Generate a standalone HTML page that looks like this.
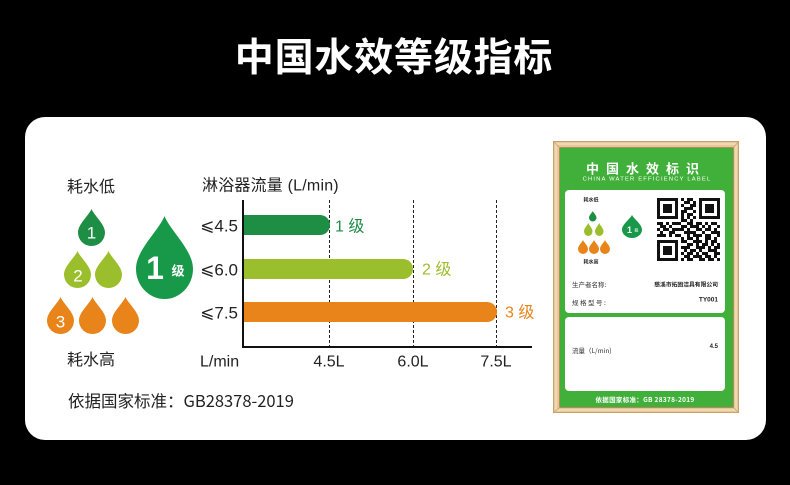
<!DOCTYPE html>
<html><head><meta charset="utf-8">
<style>
html,body{margin:0;padding:0;background:#000;}
body{width:790px;height:485px;overflow:hidden;}
svg{display:block;}
text{font-family:"Liberation Sans","Noto Sans CJK SC",sans-serif;}
.cjk{font-family:"Noto Sans CJK SC","Liberation Sans",sans-serif;}
.sym{font-family:"DejaVu Sans","Liberation Sans",sans-serif;}
</style></head>
<body>
<svg width="790" height="485" viewBox="0 0 790 485" xmlns="http://www.w3.org/2000/svg">
<defs>
<symbol id="drop" viewBox="0 0 100 135" preserveAspectRatio="none">
<path d="M50 0 C40 24 0 55 0 86 A50 49 0 0 0 100 86 C100 55 60 24 50 0 Z"/>
</symbol>
</defs>
<rect x="0" y="0" width="790" height="485" fill="#000"/>
<!-- title -->
<text x="394" y="55" fill="#fff" font-size="39" font-weight="bold" text-anchor="middle" dominant-baseline="central" class="cjk" letter-spacing="0.8">中国水效等级指标</text>

<!-- card -->
<rect x="25" y="117" width="741" height="323" rx="20" fill="#fff"/>

<!-- left legend -->
<text x="91" y="185" font-size="16" fill="#222" text-anchor="middle" dominant-baseline="central" class="cjk">耗水低</text>
<use href="#drop" x="78" y="209" width="27" height="37" fill="#1f8e45"/>
<text x="91.5" y="233" font-size="17" fill="#fff" text-anchor="middle" dominant-baseline="central">1</text>
<use href="#drop" x="64" y="251" width="27" height="37" fill="#9bbf2c"/>
<use href="#drop" x="95" y="251" width="27" height="37" fill="#9bbf2c"/>
<text x="78" y="276" font-size="17" fill="#fff" text-anchor="middle" dominant-baseline="central">2</text>
<use href="#drop" x="47" y="297" width="27" height="37" fill="#e8841a"/>
<use href="#drop" x="79" y="297" width="27" height="37" fill="#e8841a"/>
<use href="#drop" x="112" y="297" width="27" height="37" fill="#e8841a"/>
<text x="60.5" y="322" font-size="17" fill="#fff" text-anchor="middle" dominant-baseline="central">3</text>
<use href="#drop" x="136" y="216" width="57" height="83" fill="#18994a"/>
<text x="155" y="268" font-size="32" font-weight="bold" fill="#fff" text-anchor="middle" dominant-baseline="central">1</text>
<text x="178" y="270" font-size="13" font-weight="bold" fill="#fff" text-anchor="middle" dominant-baseline="central" class="cjk">级</text>
<text x="91" y="358" font-size="16" fill="#222" text-anchor="middle" dominant-baseline="central" class="cjk">耗水高</text>

<!-- chart -->
<text x="202" y="186" font-size="16" fill="#222" dominant-baseline="central" letter-spacing="0.2">淋浴器流量 (L/min)</text>
<g stroke="#222" stroke-width="1" stroke-dasharray="3 2">
<line x1="329.5" y1="200" x2="329.5" y2="346"/>
<line x1="413.5" y1="200" x2="413.5" y2="346"/>
<line x1="496.5" y1="200" x2="496.5" y2="346"/>
</g>
<path d="M243 215 H320 A10 10 0 0 1 320 235 H243 Z" fill="#1f8e45"/>
<path d="M243 259 H403 A10 10 0 0 1 403 279 H243 Z" fill="#9bbf2c"/>
<path d="M243 302 H487 A10 10 0 0 1 487 322 H243 Z" fill="#e8841a"/>
<line x1="243" y1="200" x2="243" y2="348" stroke="#111" stroke-width="2"/>
<line x1="242" y1="347" x2="532" y2="347" stroke="#111" stroke-width="2"/>
<text x="238" y="226" font-size="17" fill="#222" text-anchor="end" dominant-baseline="central"><tspan class="sym">⩽</tspan>4.5</text>
<text x="238" y="270" font-size="17" fill="#222" text-anchor="end" dominant-baseline="central"><tspan class="sym">⩽</tspan>6.0</text>
<text x="238" y="313" font-size="17" fill="#222" text-anchor="end" dominant-baseline="central"><tspan class="sym">⩽</tspan>7.5</text>
<text x="335" y="227" font-size="16" fill="#1f8e45" dominant-baseline="central">1 级</text>
<text x="422" y="270" font-size="16" fill="#9bbf2c" dominant-baseline="central">2 级</text>
<text x="505" y="313" font-size="16" fill="#e8841a" dominant-baseline="central">3 级</text>
<text x="200" y="362" font-size="16" fill="#222" dominant-baseline="central">L/min</text>
<text x="329" y="362" font-size="16" fill="#222" text-anchor="middle" dominant-baseline="central">4.5L</text>
<text x="413" y="362" font-size="16" fill="#222" text-anchor="middle" dominant-baseline="central">6.0L</text>
<text x="496" y="362" font-size="16" fill="#222" text-anchor="middle" dominant-baseline="central">7.5L</text>

<text x="68" y="400" font-size="16.5" fill="#222" dominant-baseline="central" class="cjk">依据国家标准：GB28378-2019</text>

<!-- label frame -->
<rect x="553" y="141" width="186" height="272" fill="#e6c99b"/>
<rect x="553.5" y="141.5" width="185" height="271" fill="none" stroke="#c9a26a" stroke-width="1"/>
<rect x="556" y="144" width="180" height="266" fill="none" stroke="#f2deb9" stroke-width="1.5"/>
<rect x="560" y="148" width="173" height="259" fill="#41b03a"/>
<rect x="559.5" y="147.5" width="174" height="260" fill="none" stroke="#b48a55" stroke-width="1"/>
<g stroke="#c9a26a" stroke-width="0.8">
<line x1="553" y1="141" x2="560" y2="148"/>
<line x1="739" y1="141" x2="733" y2="148"/>
<line x1="553" y1="413" x2="560" y2="407"/>
<line x1="739" y1="413" x2="733" y2="407"/>
</g>
<text x="646" y="168" font-size="13" font-weight="bold" fill="#fff" text-anchor="middle" dominant-baseline="central" class="cjk" letter-spacing="7">中国水效标识</text>
<text x="647" y="179.5" font-size="5.8" fill="#fff" text-anchor="middle" dominant-baseline="central" letter-spacing="1.2">CHINA WATER EFFICIENCY LABEL</text>

<rect x="565" y="190" width="160" height="123" rx="4" fill="#fff"/>
<rect x="565" y="317" width="160" height="74" rx="4" fill="#fff"/>

<text x="591" y="200" font-size="5" font-weight="bold" fill="#222" text-anchor="middle" dominant-baseline="central" class="cjk">耗水低</text>
<use href="#drop" x="589" y="211" width="7.5" height="10.5" fill="#1f8e45"/>
<use href="#drop" x="584" y="223" width="8.5" height="13" fill="#9bbf2c"/>
<use href="#drop" x="595" y="223" width="8.5" height="13" fill="#9bbf2c"/>
<use href="#drop" x="578" y="240" width="10" height="14" fill="#e8841a"/>
<use href="#drop" x="589" y="240" width="10" height="14" fill="#e8841a"/>
<use href="#drop" x="600" y="240" width="10" height="14" fill="#e8841a"/>
<use href="#drop" x="622" y="215" width="20" height="23" fill="#18994a"/>
<text x="629.5" y="230" font-size="9" font-weight="bold" fill="#fff" text-anchor="middle" dominant-baseline="central">1</text>
<text x="636.5" y="230.5" font-size="4" fill="#fff" text-anchor="middle" dominant-baseline="central" class="cjk">级</text>
<text x="591" y="262" font-size="5" font-weight="bold" fill="#222" text-anchor="middle" dominant-baseline="central" class="cjk">耗水高</text>

<g transform="translate(657,198) scale(3)" fill="#111" shape-rendering="crispEdges">
<path d="M0 0h7v1h-7zM8 0h1v1h-1zM10 0h2v1h-2zM14 0h7v1h-7z
M0 1h1v1h-1zM6 1h1v1h-1zM9 1h2v1h-2zM12 1h1v1h-1zM14 1h1v1h-1zM20 1h1v1h-1z
M0 2h1v1h-1zM2 2h3v1h-3zM6 2h1v1h-1zM8 2h1v1h-1zM11 2h2v1h-2zM14 2h1v1h-1zM16 2h3v1h-3zM20 2h1v1h-1z
M0 3h1v1h-1zM2 3h3v1h-3zM6 3h1v1h-1zM9 3h3v1h-3zM14 3h1v1h-1zM16 3h3v1h-3zM20 3h1v1h-1z
M0 4h1v1h-1zM2 4h3v1h-3zM6 4h1v1h-1zM8 4h2v1h-2zM12 4h1v1h-1zM14 4h1v1h-1zM16 4h3v1h-3zM20 4h1v1h-1z
M0 5h1v1h-1zM6 5h1v1h-1zM8 5h1v1h-1zM10 5h2v1h-2zM14 5h1v1h-1zM20 5h1v1h-1z
M0 6h7v1h-7zM8 6h1v1h-1zM10 6h1v1h-1zM12 6h1v1h-1zM14 6h7v1h-7z
M8 7h2v1h-2zM11 7h1v1h-1z
M0 8h2v1h-2zM3 8h1v1h-1zM5 8h3v1h-3zM10 8h2v1h-2zM13 8h2v1h-2zM16 8h1v1h-1zM18 8h2v1h-2z
M1 9h2v1h-2zM4 9h1v1h-1zM8 9h2v1h-2zM11 9h3v1h-3zM15 9h1v1h-1zM17 9h1v1h-1zM20 9h1v1h-1z
M0 10h1v1h-1zM2 10h2v1h-2zM5 10h4v1h-4zM10 10h1v1h-1zM13 10h2v1h-2zM16 10h2v1h-2zM19 10h1v1h-1z
M1 11h1v1h-1zM4 11h2v1h-2zM9 11h4v1h-4zM15 11h1v1h-1zM18 11h3v1h-3z
M0 12h3v1h-3zM4 12h1v1h-1zM6 12h2v1h-2zM10 12h1v1h-1zM12 12h3v1h-3zM16 12h2v1h-2zM20 12h1v1h-1z
M8 13h1v1h-1zM10 13h2v1h-2zM13 13h1v1h-1zM16 13h2v1h-2zM19 13h1v1h-1z
M0 14h7v1h-7zM8 14h2v1h-2zM12 14h3v1h-3zM16 14h1v1h-1zM18 14h2v1h-2z
M0 15h1v1h-1zM6 15h1v1h-1zM10 15h2v1h-2zM13 15h1v1h-1zM15 15h2v1h-2zM18 15h1v1h-1zM20 15h1v1h-1z
M0 16h1v1h-1zM2 16h3v1h-3zM6 16h1v1h-1zM8 16h3v1h-3zM13 16h3v1h-3zM17 16h1v1h-1zM19 16h2v1h-2z
M0 17h1v1h-1zM2 17h3v1h-3zM6 17h1v1h-1zM9 17h1v1h-1zM11 17h2v1h-2zM14 17h1v1h-1zM17 17h3v1h-3z
M0 18h1v1h-1zM2 18h3v1h-3zM6 18h1v1h-1zM8 18h1v1h-1zM10 18h2v1h-2zM13 18h1v1h-1zM15 18h2v1h-2zM19 18h2v1h-2z
M0 19h1v1h-1zM6 19h1v1h-1zM9 19h2v1h-2zM12 19h3v1h-3zM16 19h2v1h-2zM19 19h1v1h-1z
M0 20h7v1h-7zM8 20h1v1h-1zM10 20h2v1h-2zM14 20h2v1h-2zM17 20h2v1h-2zM20 20h1v1h-1z"/>
</g>

<text x="572" y="284" font-size="6.5" fill="#333" dominant-baseline="central" class="cjk">生产者名称:</text>
<text x="718" y="284" font-size="5.8" font-weight="bold" fill="#222" text-anchor="end" dominant-baseline="central" class="cjk">慈溪市拓固洁具有限公司</text>
<text x="572" y="302" font-size="6.5" fill="#333" dominant-baseline="central" class="cjk" letter-spacing="1.5">规格型号:</text>
<text x="718" y="300" font-size="6.5" font-weight="bold" fill="#222" text-anchor="end" dominant-baseline="central">TY001</text>
<text x="572" y="350" font-size="6.5" fill="#333" dominant-baseline="central" class="cjk">流量（L/min)</text>
<text x="718" y="347" font-size="6" font-weight="bold" fill="#222" text-anchor="end" dominant-baseline="central">4.5</text>
<text x="645" y="399" font-size="6.5" font-weight="bold" fill="#fff" text-anchor="middle" dominant-baseline="central" class="cjk" letter-spacing="0.3">依据国家标准：GB 28378-2019</text>
</svg>
</body></html>
